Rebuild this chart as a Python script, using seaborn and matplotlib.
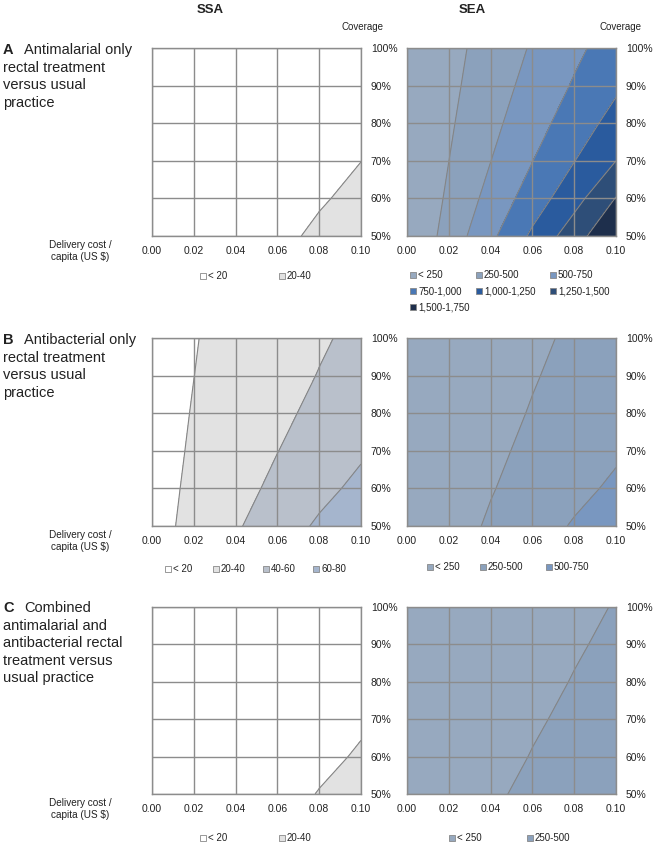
import matplotlib
matplotlib.use("Agg")
import matplotlib.pyplot as plt
from matplotlib.patches import Rectangle
import seaborn as sns

# ---------------- data ----------------
cost = [0.00, 0.02, 0.04, 0.06, 0.08, 0.10]          # delivery cost / capita (US $)
coverage = [50, 60, 70, 80, 90, 100]                  # coverage (%)
cost_labels = ["0.00", "0.02", "0.04", "0.06", "0.08", "0.10"]
coverage_labels = ["50%", "60%", "70%", "80%", "90%", "100%"]

# grids: rows = coverage 50..100, columns = cost 0.00..0.10
a_ssa = [[0, 5.6, 11.2, 16.8, 22.4, 28.0],
         [0, 4.7, 9.3, 14.0, 18.7, 23.3],
         [0, 4.0, 8.0, 12.0, 16.0, 19.9],
         [0, 3.5, 7.0, 10.5, 14.0, 17.5],
         [0, 3.1, 6.2, 9.3, 12.4, 15.6],
         [0, 2.8, 5.6, 8.4, 11.2, 14.0]]
a_sea = [[0, 348, 696, 1044, 1392, 1740],
         [0, 290, 580, 870, 1160, 1510],
         [0, 249, 497, 746, 994, 1250],
         [0, 218, 435, 653, 870, 1090],
         [0, 193, 387, 580, 773, 960],
         [0, 174, 348, 522, 696, 870]]
b_ssa = [[13, 25.4, 37.9, 50.3, 62.8, 75.2],
         [13, 23.4, 33.7, 44.1, 54.5, 64.8],
         [13, 21.9, 30.8, 39.7, 48.5, 57.4],
         [13, 20.8, 28.6, 36.3, 44.1, 51.9],
         [13, 19.9, 26.8, 33.7, 40.6, 47.6],
         [13, 19.2, 25.4, 31.7, 37.9, 44.1]]
b_sea = [[35, 156, 277, 399, 520, 641],
         [35, 136, 237, 338, 439, 540],
         [35, 122, 208, 295, 381, 468],
         [35, 111, 187, 262, 338, 414],
         [35, 102, 170, 237, 304, 372],
         [35, 96, 156, 217, 277, 338]]
c_ssa = [[0, 5.1, 10.2, 15.4, 20.5, 25.6],
         [0, 4.3, 8.5, 12.8, 17.1, 21.3],
         [0, 3.7, 7.3, 11.0, 14.6, 18.3],
         [0, 3.2, 6.4, 9.6, 12.8, 16.0],
         [0, 2.8, 5.7, 8.5, 11.4, 14.2],
         [0, 2.6, 5.1, 7.7, 10.2, 12.8]]
c_sea = [[0, 104, 207, 311, 414, 495],
         [0, 86, 173, 259, 345, 432],
         [0, 74, 148, 222, 296, 370],
         [0, 65, 130, 194, 259, 324],
         [0, 58, 115, 173, 230, 288],
         [0, 52, 104, 155, 207, 259]]

ssa_bounds_2 = [0, 20, 40]
ssa_labels_2 = ["< 20", "20-40"]
ssa_bounds_4 = [0, 20, 40, 60, 80]
ssa_labels_4 = ["< 20", "20-40", "40-60", "60-80"]
sea_bounds = [0, 250, 500, 750, 1000, 1250, 1500, 1750]
sea_labels = ["< 250", "250-500", "500-750", "750-1,000", "1,000-1,250",
              "1,250-1,500", "1,500-1,750"]

ssa_colors = ["#ffffff", "#e2e2e2", "#b9c0cb", "#a5b5cd"]
sea_colors = ["#97a9bf", "#8ba1bc", "#7997c0", "#4a78b5", "#2a5b9e",
              "#2e4e78", "#1e2f4c"]

row_titles = [("A", "Antimalarial only", "rectal treatment\nversus usual\npractice"),
              ("B", "Antibacterial only", "rectal treatment\nversus usual\npractice"),
              ("C", "Combined", "antimalarial and\nantibacterial rectal\ntreatment versus\nusual practice")]

# ---------------- style ----------------
sns.set_theme(style="white")
plt.rcParams["font.family"] = ["Liberation Sans", "DejaVu Sans"]
plt.rcParams["text.color"] = "#222222"

W, H = 662, 846
fig = plt.figure(figsize=(W / 100, H / 100), dpi=100)
fig.patch.set_facecolor("white")


def fx(x):
    return x / W


def fy(y):
    return 1 - y / H


GRID = "#8c8c8c"
rows_px = [(48, 236), (338, 526), (607, 794)]
cols_px = [(152, 361), (407, 616)]

panels = [
    [(a_ssa, ssa_bounds_2, ssa_colors[:2], ssa_labels_2),
     (a_sea, sea_bounds, sea_colors, sea_labels)],
    [(b_ssa, ssa_bounds_4, ssa_colors[:4], ssa_labels_4),
     (b_sea, sea_bounds[:4], sea_colors[:3], sea_labels[:3])],
    [(c_ssa, ssa_bounds_2, ssa_colors[:2], ssa_labels_2),
     (c_sea, sea_bounds[:3], sea_colors[:2], sea_labels[:2])],
]

legend_pos = [
    [[(200, 276), (279, 276)],
     [(410, 275), (476, 275), (550, 275), (410, 291), (476, 291), (550, 291), (410, 307)]],
    [[(165, 569), (213, 569), (263, 569), (313, 569)],
     [(427, 567), (480, 567), (546, 567)]],
    [[(200, 838), (279, 838)],
     [(449, 838), (527, 838)]],
]

for r, (top, bot) in enumerate(rows_px):
    for c, (left, right) in enumerate(cols_px):
        Z, bounds, colors, labels = panels[r][c]
        ax = fig.add_axes([fx(left), fy(bot), (right - left) / W, (bot - top) / H])
        ax.contourf(cost, coverage, Z, levels=bounds, colors=colors, zorder=1)
        inner = bounds[1:-1]
        if inner:
            ax.contour(cost, coverage, Z, levels=inner, colors="#858585",
                       linewidths=0.8, zorder=2)
        ax.set_xlim(0, 0.10)
        ax.set_ylim(50, 100)
        ax.set_xticks(cost)
        ax.set_xticklabels(cost_labels)
        ax.set_yticks(coverage)
        ax.set_yticklabels(coverage_labels)
        ax.yaxis.tick_right()
        ax.tick_params(axis="x", length=0, pad=7, labelsize=7.5, labelcolor="#222222")
        ax.tick_params(axis="y", length=0, pad=7, labelsize=7.5, labelcolor="#222222")
        ax.set_axisbelow(False)
        ax.grid(True, color=GRID, linewidth=1.0)
        for sp in ax.spines.values():
            sp.set_visible(True)
            sp.set_color(GRID)
            sp.set_linewidth(1.0)
        ax.set_facecolor("white")

        # legend
        for (lx, ly), col, lab in zip(legend_pos[r][c], colors, labels):
            fig.add_artist(Rectangle((fx(lx), fy(ly + 3)), 6 / W, 6 / H,
                                     transform=fig.transFigure, facecolor=col,
                                     edgecolor="#888888", linewidth=0.6))
            fig.text(fx(lx + 8), fy(ly), lab, ha="left", va="center", fontsize=7)

    # row labels
    letter, first, rest = row_titles[r]
    y0 = [50, 340, 608][r]
    fig.text(fx(3), fy(y0), letter, ha="left", va="center", fontsize=10.5, fontweight="bold")
    fig.text(fx(24), fy(y0), first, ha="left", va="center", fontsize=10.5)
    fig.text(fx(3), fy(y0 + 11), rest, ha="left", va="top", fontsize=10.5, linespacing=1.3)
    # x-axis caption
    fig.text(fx(80), fy(bot + 15), "Delivery cost /\ncapita (US $)", ha="center",
             va="center", fontsize=7.2, linespacing=1.2)

fig.text(fx(210), fy(10), "SSA", ha="center", va="center", fontsize=9.5, fontweight="bold")
fig.text(fx(472), fy(10), "SEA", ha="center", va="center", fontsize=9.5, fontweight="bold")
fig.text(fx(362), fy(27), "Coverage", ha="center", va="center", fontsize=7)
fig.text(fx(621), fy(27), "Coverage", ha="center", va="center", fontsize=7)

fig.savefig("out.png", dpi=100, facecolor="white")
